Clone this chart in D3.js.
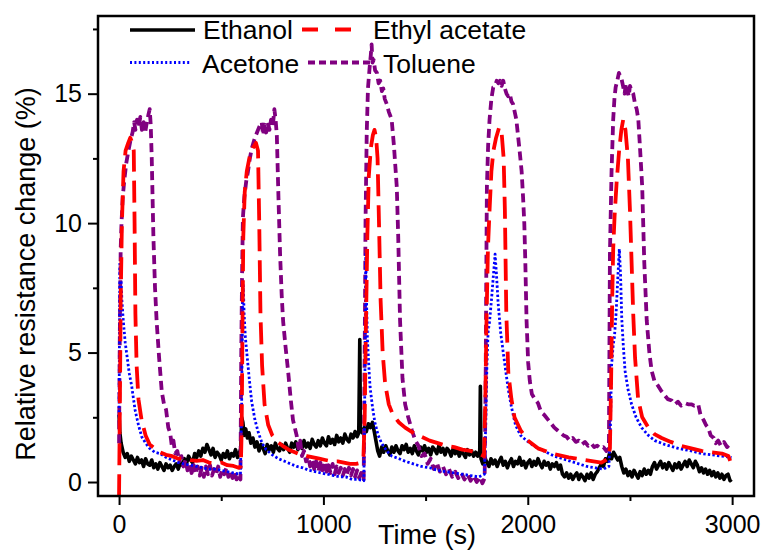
<!DOCTYPE html>
<html>
<head>
<meta charset="utf-8">
<script src="https://cdn.jsdelivr.net/npm/d3@7"></script>
<style>
  body { margin: 0; background: #fff; }
  svg { display: block; }
  text { font-family: "Liberation Sans", Arial, sans-serif; fill: #000; }
</style>
</head>
<body>
<svg></svg>
<script>
var width = 765;
var height = 551;

// values: [time (s), relative resistance change (%)]
var ethanol = [
  [0,2.6],[4,1.9],[10,1.5],[20,1.15],[30,0.95],[40,1.1],[50,0.8],[60,1.0],[70,0.85],[80,0.7],[90,0.95],[100,0.75],
  [110,0.85],[120,0.6],[130,0.9],[140,0.7],[150,0.65],[160,0.85],[170,0.55],[180,0.7],[190,0.5],[200,0.75],[210,0.6],
  [220,0.45],[230,0.7],[240,0.55],[250,0.65],[260,0.45],[270,0.6],[280,0.7],[290,0.5],[300,0.75],[310,0.65],[320,0.9],
  [330,0.7],[340,1.0],[350,0.85],[360,0.75],[370,1.1],[380,0.95],[390,1.2],[400,1.0],[410,1.3],[420,1.15],[430,1.45],
  [440,1.25],[450,1.05],[460,1.3],[470,0.95],[480,1.15],[490,1.05],[500,0.85],[510,1.1],[520,0.95],[530,1.2],[540,0.9],
  [550,1.1],[560,1.0],[570,1.25],[580,0.95],[590,1.15],[596,1.3],
  [600,2.5],[606,2.3],[612,1.8],[620,2.05],[628,1.7],[636,1.9],[645,1.5],[655,1.7],[665,1.35],[675,1.55],[685,1.2],
  [695,1.45],[705,1.3],[715,1.1],[725,1.45],[735,1.25],[745,1.4],[755,1.15],[765,1.5],[775,1.3],[785,1.2],[795,1.45],
  [805,1.25],[815,1.5],[825,1.3],[835,1.15],[845,1.5],[855,1.35],[865,1.55],[875,1.25],[885,1.45],[895,1.3],[905,1.6],
  [915,1.35],[925,1.5],[935,1.3],[945,1.65],[955,1.45],[965,1.35],[975,1.6],[985,1.4],[995,1.7],[1005,1.5],[1015,1.4],
  [1025,1.75],[1035,1.5],[1045,1.65],[1055,1.45],[1065,1.8],[1075,1.55],[1085,1.7],[1095,1.5],[1105,1.85],[1115,1.65],
  [1125,1.55],[1135,1.85],[1145,1.7],[1155,1.95],[1165,1.75],[1173,1.9],[1178,5.5],[1181,2.0],
  [1190,1.9],[1200,2.1],[1210,1.95],[1220,2.25],[1230,2.1],[1240,2.3],[1250,1.9],[1258,1.55],[1266,1.2],[1275,1.0],
  [1285,1.35],[1295,1.15],[1305,1.4],[1315,1.2],[1325,1.05],[1335,1.35],[1345,1.15],[1355,1.4],[1365,1.2],[1375,1.1],
  [1385,1.4],[1395,1.25],[1405,1.45],[1415,1.15],[1425,1.3],[1435,1.1],[1445,1.4],[1455,1.2],[1465,1.05],[1475,1.35],
  [1485,1.2],[1495,1.4],[1505,1.15],[1515,1.3],[1525,1.05],[1535,1.35],[1545,1.25],[1555,1.1],[1565,1.4],[1575,1.15],
  [1585,1.3],[1595,1.05],[1605,1.3],[1615,1.2],[1625,1.0],[1635,1.3],[1645,1.1],[1655,1.25],[1665,1.0],[1675,1.2],
  [1685,1.1],[1695,0.95],[1705,1.25],[1715,1.05],[1725,1.2],[1735,1.0],[1745,1.15],[1755,1.0],[1765,1.2],[1768,3.7],
  [1771,0.9],[1780,0.7],[1790,0.95],[1800,0.75],[1810,0.6],[1820,0.9],[1830,0.7],[1840,0.85],[1850,0.6],[1860,0.8],
  [1870,0.95],[1880,0.65],[1890,0.8],[1900,0.55],[1910,0.75],[1920,0.9],[1930,0.6],[1940,0.8],[1950,0.7],[1960,0.95],
  [1970,0.65],[1980,0.8],[1990,0.55],[2000,0.75],[2010,0.85],[2020,0.6],[2030,0.8],[2040,0.65],[2050,0.9],[2060,0.7],
  [2070,0.55],[2080,0.8],[2090,0.65],[2100,0.75],[2110,0.5],[2120,0.7],[2130,0.6],[2140,0.75],[2150,0.5],[2160,0.65],
  [2170,0.3],[2180,0.2],[2190,0.35],[2200,0.15],[2210,0.3],[2220,0.1],[2230,0.25],[2240,0.35],[2250,0.1],[2260,0.3],
  [2270,0.2],[2280,0.05],[2290,0.3],[2300,0.15],[2310,0.35],[2320,0.1],[2330,0.3],[2340,0.4],[2350,0.55],[2360,0.7],
  [2370,0.6],[2380,0.9],[2390,0.8],[2400,1.1],[2410,0.9],[2420,1.15],[2430,1.0],[2440,0.85],[2450,0.95],[2460,0.6],
  [2470,0.35],[2480,0.5],[2490,0.25],[2500,0.4],[2510,0.2],[2520,0.45],[2530,0.3],[2540,0.15],[2550,0.4],[2560,0.25],
  [2570,0.5],[2580,0.3],[2590,0.45],[2600,0.3],[2610,0.6],[2620,0.75],[2630,0.5],[2640,0.65],[2650,0.8],[2660,0.55],
  [2670,0.7],[2680,0.5],[2690,0.75],[2700,0.6],[2710,0.45],[2720,0.7],[2730,0.55],[2740,0.75],[2750,0.5],[2760,0.65],
  [2770,0.8],[2780,0.6],[2790,0.85],[2800,0.7],[2810,0.55],[2820,0.8],[2830,0.65],[2840,0.4],[2850,0.55],[2860,0.35],
  [2870,0.5],[2880,0.3],[2890,0.45],[2900,0.25],[2910,0.4],[2920,0.2],[2930,0.35],[2940,0.15],[2950,0.3],[2960,0.1],
  [2970,0.25],[2980,0.3],[2990,0.05],[2997,0.1]
];

var ethylAcetate = [
  [0,-0.55],[4,3],[8,7],[14,10],[22,12],[32,12.8],[45,13.1],[55,13.3],[65,13.1],[72,12.8],[76,10],[80,6.5],[86,4.5],
  [95,3.2],[110,2.4],[130,1.8],[150,1.45],[175,1.3],[200,1.15],[230,1.05],[260,1.0],[290,0.9],[320,0.92],[350,0.85],
  [380,0.82],[410,0.85],[440,0.75],[470,0.72],[500,0.75],[530,0.65],[560,0.62],[585,0.55],[596,0.6],
  [600,2],[604,6],[608,9.5],[615,11.2],[625,12],[640,12.6],[655,12.9],[670,13.1],[680,12.8],[686,10],[692,6.5],
  [700,4.5],[712,3.0],[730,2.2],[750,1.8],[775,1.55],[800,1.4],[830,1.25],[860,1.15],[890,1.05],[920,1.0],[950,0.95],
  [980,0.9],[1010,0.85],[1040,0.8],[1070,0.8],[1100,0.75],[1130,0.7],[1160,0.7],[1185,0.75],[1196,1.0],
  [1202,2.5],[1208,6],[1215,9.5],[1222,11.8],[1232,12.9],[1242,13.4],[1250,13.6],[1258,13.3],[1265,12.5],[1272,10],
  [1280,7],[1290,5],[1302,3.8],[1320,3.0],[1340,2.6],[1370,2.3],[1400,2.1],[1440,1.9],[1480,1.75],[1520,1.6],
  [1560,1.5],[1600,1.4],[1640,1.35],[1680,1.25],[1720,1.2],[1760,1.1],[1786,1.0],
  [1792,3],[1798,6.2],[1805,9],[1813,10.5],[1822,12],[1832,12.8],[1845,13.3],[1860,13.7],[1872,13.5],[1882,12.5],
  [1888,10.5],[1895,6.5],[1905,4.2],[1920,3.2],[1935,2.5],[1965,2.0],[2000,1.6],[2050,1.3],[2120,1.1],[2200,0.95],
  [2280,0.85],[2360,0.75],[2392,0.9],[2402,1.3],
  [2408,4],[2413,7],[2418,9],[2425,10.3],[2435,11.6],[2447,12.8],[2458,13.6],[2467,14.0],[2478,13.6],[2490,12.5],
  [2500,10.5],[2508,8.5],[2516,6.5],[2525,4.8],[2540,3.2],[2560,2.5],[2590,2.1],[2620,1.85],[2655,1.7],[2700,1.55],
  [2750,1.4],[2800,1.3],[2850,1.2],[2900,1.15],[2950,1.1],[2982,1.0],[2991,0.8],[2998,0.5]
];

var acetone = [
  [0,2.5],[4,8.5],[8,8.2],[14,7.0],[21,6.2],[30,5.4],[40,4.8],[50,4.2],[62,3.7],[78,2.8],[95,2.2],[111,1.75],
  [130,1.5],[150,1.3],[175,1.15],[200,1.1],[230,0.95],[260,0.85],[290,0.75],[320,0.7],[350,0.65],[380,0.6],[410,0.55],
  [440,0.5],[470,0.5],[500,0.45],[530,0.4],[560,0.35],[594,0.3],
  [600,3],[604,7.0],[608,7.6],[612,6.5],[618,5.6],[625,5.0],[637,4.0],[649,3.1],[665,2.4],[682,1.9],[700,1.5],
  [720,1.25],[750,1.05],[780,0.9],[810,0.8],[840,0.7],[870,0.6],[900,0.55],[930,0.45],[960,0.4],[990,0.35],
  [1020,0.3],[1050,0.25],[1080,0.2],[1110,0.2],[1140,0.1],[1170,0.1],[1198,0.05],
  [1203,4],[1207,8.8],[1211,7.0],[1215,5.6],[1222,4.5],[1228,3.7],[1240,2.9],[1252,2.3],[1268,1.8],[1285,1.5],
  [1310,1.2],[1335,1.0],[1370,0.9],[1400,0.8],[1440,0.7],[1480,0.6],[1520,0.55],[1560,0.45],[1600,0.4],[1640,0.35],
  [1680,0.3],[1720,0.25],[1760,0.2],[1788,0.3],
  [1795,2.5],[1800,4.5],[1806,5.8],[1813,6.2],[1822,7.0],[1832,8.0],[1840,8.8],[1847,8.0],[1855,6.9],[1867,5.8],
  [1880,5.0],[1892,4.3],[1904,3.6],[1920,2.9],[1940,2.2],[1965,1.8],[1994,1.6],[2020,1.45],[2050,1.3],[2090,1.15],
  [2130,1.0],[2170,0.9],[2210,0.8],[2250,0.7],[2290,0.6],[2330,0.55],[2370,0.5],[2397,0.6],
  [2404,2],[2410,4.5],[2418,5.3],[2424,5.6],[2432,6.5],[2440,7.8],[2448,9.0],[2454,8.0],[2460,6.3],[2468,5.2],
  [2476,4.3],[2490,3.6],[2508,3.0],[2530,2.5],[2557,2.1],[2590,1.8],[2622,1.6],[2670,1.45],[2737,1.3],[2800,1.2],
  [2850,1.1],[2900,1.05],[2950,1.0],[2997,0.95]
];

var toluene = [
  [0,1.5],[4,6],[8,9],[12,10],[18,11],[25,11.6],[35,12.3],[46,12.8],[56,13.2],[66,13.5],[74,13.9],[80,13.6],[88,14.0],
  [96,13.7],[104,14.1],[112,13.6],[120,13.9],[128,13.5],[136,13.9],[144,14.2],[150,14.4],[155,13.8],[160,12.5],
  [168,9.5],[176,7.5],[184,6.2],[196,4.8],[209,3.5],[220,3.0],[230,2.8],[241,2.1],[250,1.9],[258,1.4],[266,1.6],
  [275,1.1],[285,1.2],[295,0.8],[305,1.0],[315,0.6],[325,0.85],[335,0.45],[345,0.7],[355,0.35],[365,0.65],[375,0.3],
  [385,0.6],[395,0.25],[405,0.55],[415,0.2],[425,0.6],[435,0.3],[445,0.65],[455,0.25],[465,0.5],[475,0.3],[485,0.6],
  [495,0.2],[505,0.5],[515,0.3],[525,0.55],[535,0.2],[545,0.45],[555,0.15],[565,0.4],[575,0.1],[585,0.3],[594,0.1],
  [598,5],[602,8],[606,10.2],[613,11],[622,11.6],[631,12.0],[640,12.5],[650,12.9],[665,13.3],[675,13.5],[685,13.7],
  [698,13.9],[705,13.4],[712,13.8],[720,13.5],[728,13.9],[736,13.6],[744,14.0],[752,13.7],[760,14.4],[766,14.0],
  [772,13.4],[780,11],[788,8.8],[796,7.2],[803,6.2],[815,5.2],[827,4.3],[840,3.2],[851,2.4],[860,2.1],[869,1.8],
  [878,1.3],[886,1.6],[895,1.0],[905,1.2],[915,0.8],[925,1.0],[935,0.6],[945,0.85],[955,0.5],[965,0.8],[975,0.4],
  [985,0.75],[995,0.45],[1005,0.8],[1015,0.4],[1025,0.65],[1035,0.35],[1045,0.7],[1055,0.3],[1065,0.6],[1075,0.35],
  [1085,0.55],[1095,0.25],[1105,0.5],[1115,0.3],[1125,0.55],[1135,0.25],[1145,0.5],[1155,0.2],[1165,0.45],[1175,0.15],
  [1185,0.35],[1197,0.1],
  [1202,5],[1206,10],[1212,13.5],[1218,15.2],[1226,16.0],[1232,16.5],[1236,16.9],[1240,16.2],[1246,16.3],[1253,15.9],
  [1262,15.8],[1270,15.4],[1278,15.5],[1286,15.1],[1293,15.2],[1300,14.8],[1310,14.6],[1320,14.3],[1334,14.0],
  [1345,13.0],[1352,12.2],[1359,11.4],[1366,9.5],[1375,6.25],[1387,4.0],[1400,3.0],[1415,2.5],[1433,2.0],[1450,1.6],
  [1465,1.4],[1480,1.0],[1495,1.1],[1510,0.7],[1525,0.9],[1540,0.5],[1555,0.75],[1570,0.4],[1585,0.6],[1600,0.3],
  [1615,0.5],[1630,0.2],[1645,0.4],[1660,0.15],[1675,0.35],[1690,0.1],[1705,0.3],[1720,0.05],[1735,0.25],[1750,0.0],
  [1765,0.2],[1778,-0.05],[1789,0.15],
  [1794,4],[1797,8],[1800,11.4],[1806,13.0],[1813,14.0],[1822,14.8],[1831,15.25],[1840,15.3],[1848,15.5],[1856,15.4],
  [1864,15.5],[1872,15.3],[1880,15.5],[1888,15.2],[1896,15.0],[1904,14.9],[1912,15.0],[1920,14.7],[1928,14.6],
  [1936,14.3],[1944,14.0],[1952,13.4],[1960,12.8],[1970,12.0],[1977,11],[1983,10.0],[1988,8.5],[1994,6.25],[2002,4.6],
  [2010,3.9],[2020,3.4],[2035,3.2],[2050,3.05],[2065,2.7],[2080,2.6],[2100,2.4],[2115,2.25],[2130,2.1],[2145,2.0],
  [2160,1.9],[2175,1.8],[2190,1.75],[2205,1.6],[2220,1.7],[2235,1.55],[2250,1.6],[2265,1.45],[2280,1.55],[2295,1.4],
  [2310,1.5],[2325,1.35],[2340,1.4],[2355,1.3],[2370,1.35],[2385,1.2],[2397,1.3],
  [2402,8.8],[2410,12],[2418,14.0],[2424,14.8],[2430,15.25],[2438,15.5],[2446,15.8],[2451,15.7],[2458,15.6],
  [2466,15.3],[2474,15.0],[2480,15.4],[2486,15.2],[2494,14.9],[2500,15.3],[2508,15.1],[2516,15.0],[2525,14.6],
  [2533,14.4],[2541,14.0],[2550,12.8],[2560,11.4],[2570,8.5],[2582,6.25],[2595,5.0],[2606,4.3],[2620,3.9],[2639,3.7],
  [2655,3.5],[2670,3.35],[2685,3.2],[2704,3.15],[2720,3.0],[2735,3.1],[2750,2.95],[2769,3.05],[2785,3.0],[2800,3.0],
  [2815,2.95],[2834,3.0],[2845,2.6],[2860,2.4],[2872,2.2],[2883,2.1],[2895,1.8],[2910,1.7],[2920,1.5],[2932,1.6],
  [2945,1.4],[2960,1.55],[2975,1.35],[2988,1.45],[2998,1.4]
];

var seriesNames = ['Ethanol', 'Ethyl acetate', 'Acetone', 'Toluene'];
var yTicks = [0, 5, 10, 15];
var yMinorTicks = [2.5, 7.5, 12.5, 17.5];
var xTicks = [0, 1000, 2000, 3000];
var xMinorTicks = [500, 1500, 2500];

var plot = {left: 98, top: 16, right: 754, bottom: 496};

var svg = d3.select('svg')
    .attr('width', width)
    .attr('height', height);

var xScale = d3.scaleLinear()
    .domain([-103, 3107])
    .range([plot.left, plot.right]);

var yScale = d3.scaleLinear()
    .domain([-0.54, 18])
    .range([plot.bottom, plot.top]);

svg.append('clipPath')
    .attr('id', 'plot-clip')
  .append('rect')
    .attr('x', plot.left)
    .attr('y', plot.top)
    .attr('width', plot.right - plot.left)
    .attr('height', plot.bottom - plot.top);

// style of each series
var styles = {
  'Ethanol':       {data: ethanol,      color: '#000000', width: 3.6, dash: null},
  'Toluene':       {data: toluene,      color: '#800080', width: 3.8, dash: '9,5'},
  'Acetone':       {data: acetone,      color: '#0000ff', width: 2.8, dash: '2.4,2.2'},
  'Ethyl acetate': {data: ethylAcetate, color: '#ff0000', width: 3.8, dash: '22,9'}
};

var line = d3.line()
    .x(d => xScale(d[0]))
    .y(d => yScale(d[1]));

var curves = svg.append('g').attr('clip-path', 'url(#plot-clip)');

// drawing order: ethanol at the back, ethyl acetate on top
['Ethanol', 'Toluene', 'Acetone', 'Ethyl acetate'].forEach(function(name) {
  var s = styles[name];
  curves.append('path')
      .datum(s.data)
      .attr('d', line)
      .attr('fill', 'none')
      .attr('stroke', s.color)
      .attr('stroke-width', s.width)
      .attr('stroke-dasharray', s.dash)
      .attr('stroke-linejoin', 'round');
});

function styleAxis(g, fontSize) {
  g.select('.domain').remove();
  g.selectAll('line').attr('stroke', '#000').attr('stroke-width', 2);
  g.selectAll('text')
      .style('font-family', '"Liberation Sans", Arial, sans-serif')
      .style('font-size', fontSize + 'px')
      .attr('fill', '#000');
}

// y axis
svg.append('g')
    .attr('transform', 'translate(' + plot.left + ',0)')
    .call(d3.axisLeft(yScale).tickValues(yTicks).tickSize(10).tickPadding(6).tickFormat(d3.format('d')))
    .call(g => styleAxis(g, 25));

svg.append('g')
    .attr('transform', 'translate(' + plot.left + ',0)')
    .call(d3.axisLeft(yScale).tickValues(yMinorTicks).tickSize(5).tickFormat(''))
    .call(g => styleAxis(g, 25));

// x axis
svg.append('g')
    .attr('transform', 'translate(0,' + plot.bottom + ')')
    .call(d3.axisBottom(xScale).tickValues(xTicks).tickSize(9).tickPadding(10).tickFormat(d3.format('d')))
    .call(g => styleAxis(g, 25));

svg.append('g')
    .attr('transform', 'translate(0,' + plot.bottom + ')')
    .call(d3.axisBottom(xScale).tickValues(xMinorTicks).tickSize(5).tickFormat(''))
    .call(g => styleAxis(g, 25));

// frame
svg.append('rect')
    .attr('x', plot.left)
    .attr('y', plot.top)
    .attr('width', plot.right - plot.left)
    .attr('height', plot.bottom - plot.top)
    .attr('fill', 'none')
    .attr('stroke', '#000')
    .attr('stroke-width', 2.5);

// axis titles
svg.append('text')
    .text('Time (s)')
    .attr('x', 427)
    .attr('y', 544)
    .attr('text-anchor', 'middle')
    .style('font-size', '27px');

svg.append('text')
    .text('Relative resistance change (%)')
    .attr('transform', 'translate(35,274) rotate(-90)')
    .attr('text-anchor', 'middle')
    .style('font-size', '27px');

// legend, two rows of two entries
var legendLayout = [
  {name: 'Ethanol',       x1: 130, x2: 195, y: 30,   tx: 203, ty: 39, dash: null},
  {name: 'Ethyl acetate', x1: 302, x2: 352, y: 29.5, tx: 373, ty: 39, dash: '16,17'},
  {name: 'Acetone',       x1: 130, x2: 191, y: 62.5, tx: 202, ty: 73, dash: '2,2.4'},
  {name: 'Toluene',       x1: 308, x2: 372, y: 62.5, tx: 383, ty: 73, dash: '7,4'}
];

var legend = svg.append('g');

legendLayout.forEach(function(item) {
  var s = styles[item.name];
  legend.append('line')
      .attr('x1', item.x1)
      .attr('x2', item.x2)
      .attr('y1', item.y)
      .attr('y2', item.y)
      .attr('stroke', s.color)
      .attr('stroke-width', s.width)
      .attr('stroke-dasharray', item.dash);
  legend.append('text')
      .text(item.name)
      .attr('x', item.tx)
      .attr('y', item.ty)
      .style('font-size', '26.5px');
});
</script>
</body>
</html>
